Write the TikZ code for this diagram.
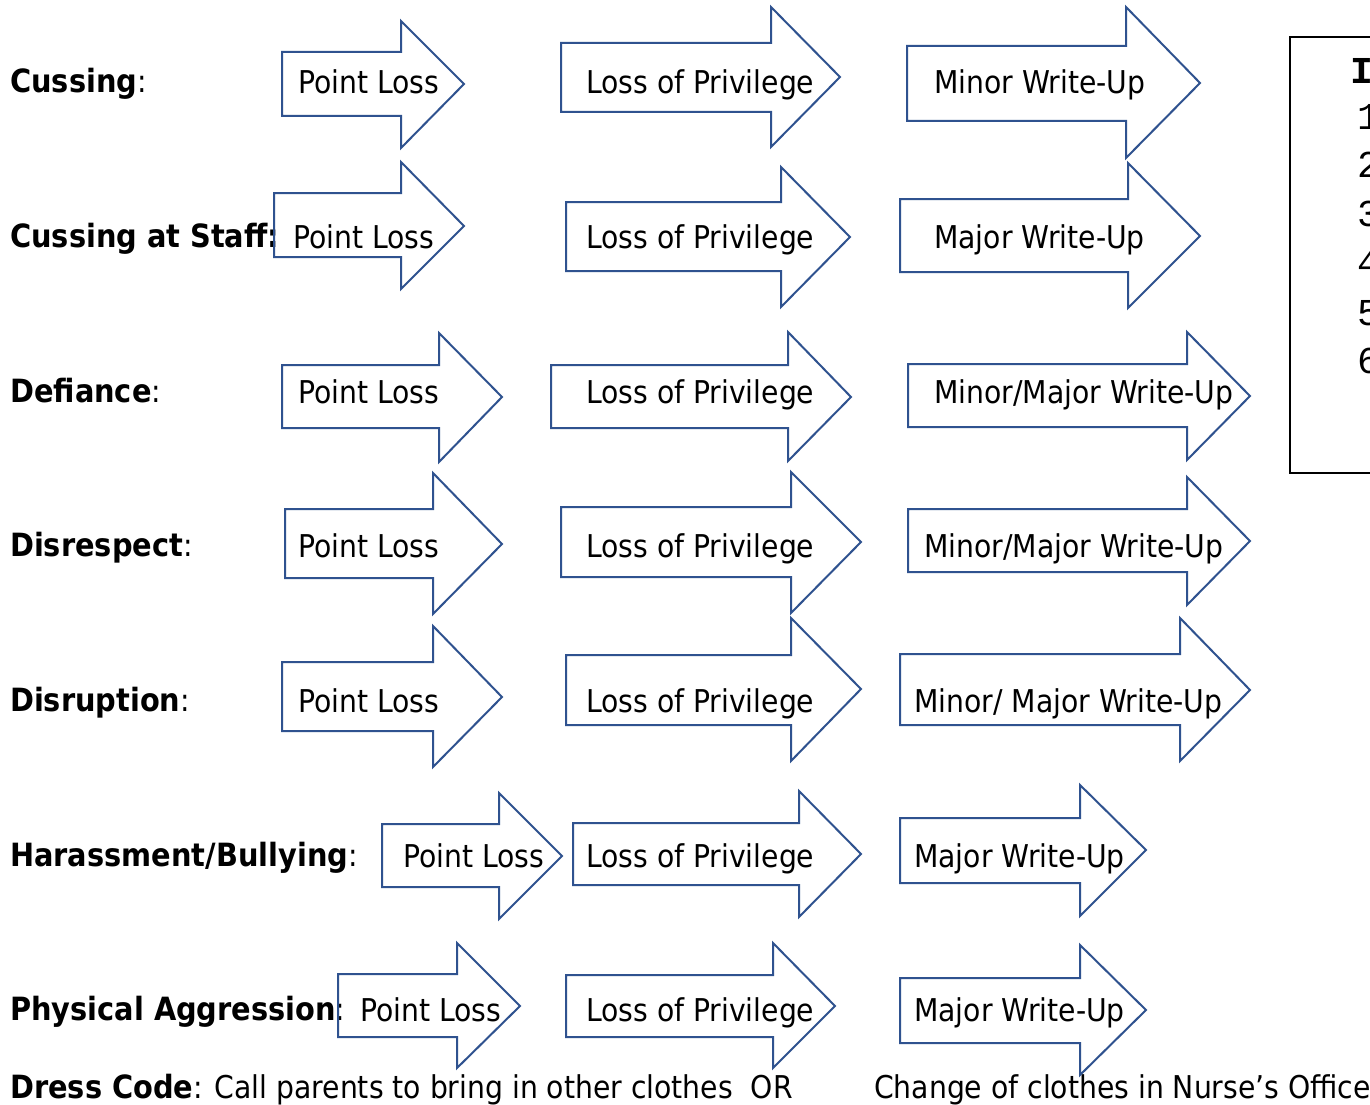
\documentclass[tikz,border=0pt]{standalone}
\usepackage{fontspec}
\setmainfont{DejaVu Sans Condensed}[BoldFeatures={Scale=1.02}]
\newfontfamily\monof{Liberation Mono}
\definecolor{arrblue}{RGB}{47,82,143}
% #1 xl, #2 xh (head base), #3 xt (tip), #4 body top, #5 body bottom, #6 head top, #7 head bottom, #8 tip y
\newcommand{\barrow}[8]{\draw[arr] (#1,#4) -- (#2,#4) -- (#2,#6) -- (#3,#8) -- (#2,#7) -- (#2,#5) -- (#1,#5) -- cycle;}
\begin{document}
\begin{tikzpicture}[x=1pt,y=-1pt,
  arr/.style={draw=arrblue,line width=2pt,line join=miter},
  lbl/.style={anchor=base west,inner sep=0pt,font=\fontsize{31.4}{37}\selectfont},
  boxtxt/.style={anchor=base west,inner sep=0pt,font=\monof\fontsize{38}{42}\selectfont}]
\useasboundingbox (0,0) rectangle (1370,1105);
\fill[white] (0,0) rectangle (1370,1105);

% left labels
\node[lbl] (l1) at (10,93) {\textbf{Cussing}:};
\node[lbl] (l2) at (10,247) {\textbf{Cussing at Staff:}};
\node[lbl] (l3) at (10,402) {\textbf{Defiance}:};
\node[lbl] (l4) at (10,556) {\textbf{Disrespect}:};
\node[lbl] (l5) at (10,711) {\textbf{Disruption}:};
\node[lbl] (l6) at (10,866) {\textbf{Harassment/Bullying}:};
\node[lbl] (l7) at (10,1020) {\textbf{Physical Aggression}:};
\node[lbl] (l8) at (10,1098) {\textbf{Dress Code}: Call parents to bring in other clothes\ \ OR};
\node[lbl] (l9) at (874,1098) {Change of clothes in Nurse’s Office};

% row 1
\barrow{282}{401}{464}{52}{116}{21}{148}{84}
\barrow{561}{771}{840}{43}{112}{7}{147}{77}
\barrow{907}{1126}{1200}{46}{121}{7}{158}{83}
\node[lbl] (a1) at (298,94) {Point Loss};
\node[lbl] (b1) at (586,94) {Loss of Privilege};
\node[lbl] (c1) at (934,94) {Minor Write-Up};
% row 2
\barrow{274}{401}{464}{193}{257}{162}{289}{226}
\barrow{566}{781}{850}{202}{271}{167}{307}{237}
\barrow{900}{1128}{1200}{199}{272}{163}{308}{236}
\node[lbl] (a2) at (293,248) {Point Loss};
\node[lbl] (b2) at (586,248) {Loss of Privilege};
\node[lbl] (c2) at (934,248) {Major Write-Up};
% row 3
\barrow{282}{439}{502}{365}{428}{333}{462}{397}
\barrow{551}{788}{851}{365}{428}{332}{461}{397}
\barrow{908}{1187}{1250}{364}{427}{332}{460}{396}
\node[lbl] (a3) at (298,403) {Point Loss};
\node[lbl] (b3) at (586,403) {Loss of Privilege};
\node[lbl] (c3) at (934,403) {Minor/Major Write-Up};
% row 4
\barrow{285}{433}{502}{509}{578}{473}{614}{544}
\barrow{561}{791}{861}{507}{577}{472}{613}{542}
\barrow{908}{1187}{1250}{509}{572}{477}{605}{541}
\node[lbl] (a4) at (298,557) {Point Loss};
\node[lbl] (b4) at (586,557) {Loss of Privilege};
\node[lbl] (c4) at (924,557) {Minor/Major Write-Up};
% row 5
\barrow{282}{433}{502}{662}{731}{626}{767}{697}
\barrow{566}{791}{861}{655}{725}{618}{761}{689}
\barrow{900}{1180}{1250}{654}{725}{618}{761}{690}
\node[lbl] (a5) at (298,712) {Point Loss};
\node[lbl] (b5) at (586,712) {Loss of Privilege};
\node[lbl] (c5) at (914,712) {Minor/ Major Write-Up};
% row 6
\barrow{382}{499}{562}{824}{887}{793}{919}{856}
\barrow{573}{799}{861}{823}{885}{791}{917}{854}
\barrow{900}{1080}{1146}{818}{883}{785}{916}{850}
\node[lbl] (a6) at (403,867) {Point Loss};
\node[lbl] (b6) at (586,867) {Loss of Privilege};
\node[lbl] (c6) at (914,867) {Major Write-Up};
% row 7
\barrow{338}{457}{520}{974}{1037}{943}{1068}{1006}
\barrow{566}{773}{835}{975}{1037}{943}{1068}{1006}
\barrow{900}{1080}{1146}{978}{1043}{945}{1075}{1010}
\node[lbl] (a7) at (360,1021) {Point Loss};
\node[lbl] (b7) at (586,1021) {Loss of Privilege};
\node[lbl] (c7) at (914,1021) {Major Write-Up};

% right box (cut off at the page edge, as in the reference)
\draw[line width=1.5pt] (1290,37) rectangle (1400,473);
\node[boxtxt,font=\monof\bfseries\fontsize{38}{42}\selectfont] (k0) at (1350,84) {I};
\node[boxtxt] (k1) at (1357,130) {1};
\node[boxtxt] (k2) at (1357,177) {2};
\node[boxtxt] (k3) at (1357,226) {3};
\node[boxtxt] (k4) at (1357,275) {4};
\node[boxtxt] (k5) at (1357,325) {5};
\node[boxtxt] (k6) at (1357,373) {6};
\end{tikzpicture}
\end{document}
